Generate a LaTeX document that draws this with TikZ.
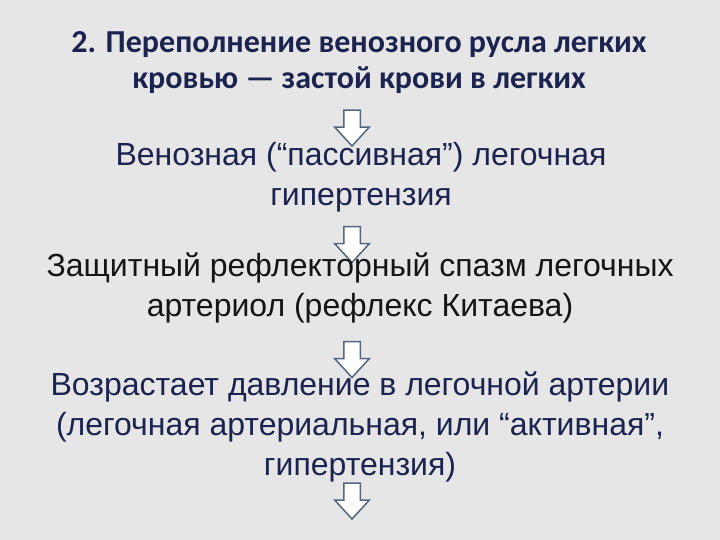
\documentclass[tikz,border=0pt]{standalone}
\usepackage{fontspec}
\setmainfont{Liberation Sans}
\newfontfamily\titlefont{Carlito}
\usepackage{tikz}
\usetikzlibrary{shapes.arrows}
\definecolor{slidebg}{HTML}{E6E6E6}
\definecolor{navytext}{HTML}{1B2350}
\definecolor{darktext}{HTML}{151515}
\definecolor{arrowline}{HTML}{53667F}

\begin{document}
\begin{tikzpicture}[x=1pt,y=1pt,
  titletext/.style={align=center,text=navytext,font=\titlefont\bfseries\fontsize{32}{36}\selectfont},
  bodytext/.style={align=center,font=\fontsize{32}{40}\selectfont},
  downarrow/.style={single arrow,draw=arrowline,fill=white,line width=1.5pt,
    shape border rotate=270,minimum height=36pt,inner xsep=7.5pt,inner ysep=0pt,
    single arrow head extend=9pt,single arrow tip angle=85}]
\fill[slidebg] (0,0) rectangle (720,-540);
\node[titletext] (title) at (359,-63) {2. Переполнение венозного русла легких\\кровью — застой крови в легких};
\node[downarrow] (arr1) at (352,-123.5) {};
\node[bodytext,text=navytext] (venous) at (361,-177) {Венозная (“пассивная”) легочная\\гипертензия};
\node[downarrow] (arr2) at (352,-240) {};
\node[bodytext,text=darktext] (reflex) at (360,-288) {Защитный рефлекторный спазм легочных\\артериол (рефлекс Китаева)};
\node[downarrow] (arr3) at (352,-355) {};
\node[bodytext,text=navytext] (pressure) at (360,-427) {Возрастает давление в легочной артерии\\(легочная артериальная, или “активная”,\\гипертензия)};
\node[downarrow] (arr4) at (352,-496.5) {};
\end{tikzpicture}
\end{document}
